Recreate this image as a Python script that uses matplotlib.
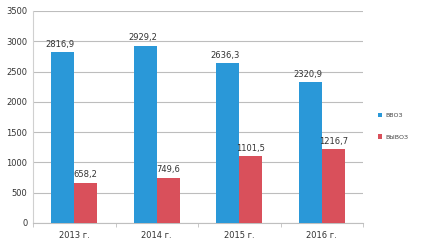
import matplotlib
matplotlib.use("Agg")
import matplotlib.pyplot as plt
import numpy as np

categories = ["2013 г.", "2014 г.", "2015 г.", "2016 г."]
import_vals = [2816.9, 2929.2, 2636.3, 2320.9]
export_vals = [658.2, 749.6, 1101.5, 1216.7]
series_names = ["ВВОЗ", "ВЫВОЗ"]
yticks = [0, 500, 1000, 1500, 2000, 2500, 3000, 3500]

blue = "#2A98D8"
red = "#D9505B"

plt.rcParams['font.family'] = ['DejaVu Sans']
fig = plt.figure(figsize=(4.22, 2.46), dpi=100)
ax = fig.add_axes([33/422, 1 - 223/246, 330/422, 212/246])

x = np.arange(len(categories))
w = 0.28
b1 = ax.bar(x - w/2, import_vals, w, color=blue, label=series_names[0], zorder=3)
b2 = ax.bar(x + w/2, export_vals, w, color=red, label=series_names[1], zorder=3)

def fmt(v):
    return f"{v:.1f}".replace(".", ",")

for rect, v in zip(b1, import_vals):
    ax.text(rect.get_x() + rect.get_width()/2 - 0.03, v + 60, fmt(v), ha="center", va="bottom",
            fontsize=6, color="#333333", zorder=4)
for rect, v in zip(b2, export_vals):
    ax.text(rect.get_x() + rect.get_width()/2, v + 60, fmt(v), ha="center", va="bottom",
            fontsize=6, color="#333333", zorder=4)

ax.set_xlim(-0.5, len(categories) - 0.5)
ax.set_ylim(0, 3500)
ax.set_yticks(yticks)
ax.set_yticklabels([str(t) for t in yticks], fontsize=6, color="#333333")
ax.set_xticks(x)
ax.set_xticklabels(categories, fontsize=6, color="#333333")
ax.set_xticks(np.arange(-0.5, len(categories)), minor=True)
ax.tick_params(axis="x", which="major", length=0, pad=6)
ax.tick_params(axis="x", which="minor", length=3, color="#BFBFBF")
ax.tick_params(axis="y", length=0, pad=4)
ax.grid(axis="y", color="#BDBDBD", linewidth=0.8, zorder=0)
for s in ["top", "right"]:
    ax.spines[s].set_visible(False)
ax.spines["left"].set_color("#D0D0D0")
ax.spines["bottom"].set_color("#BFBFBF")
ax.spines["left"].set_linewidth(0.8)
ax.spines["bottom"].set_linewidth(0.8)

leg = fig.legend(handles=[b1, b2], labels=series_names, loc="upper left",
                 bbox_to_anchor=(372/422, 1 - 107/246), frameon=False, fontsize=4.5,
                 handlelength=0.7, handleheight=0.7, handletextpad=0.5, labelspacing=2.6,
                 labelcolor="#444444")

fig.savefig("out.png", dpi=100)
